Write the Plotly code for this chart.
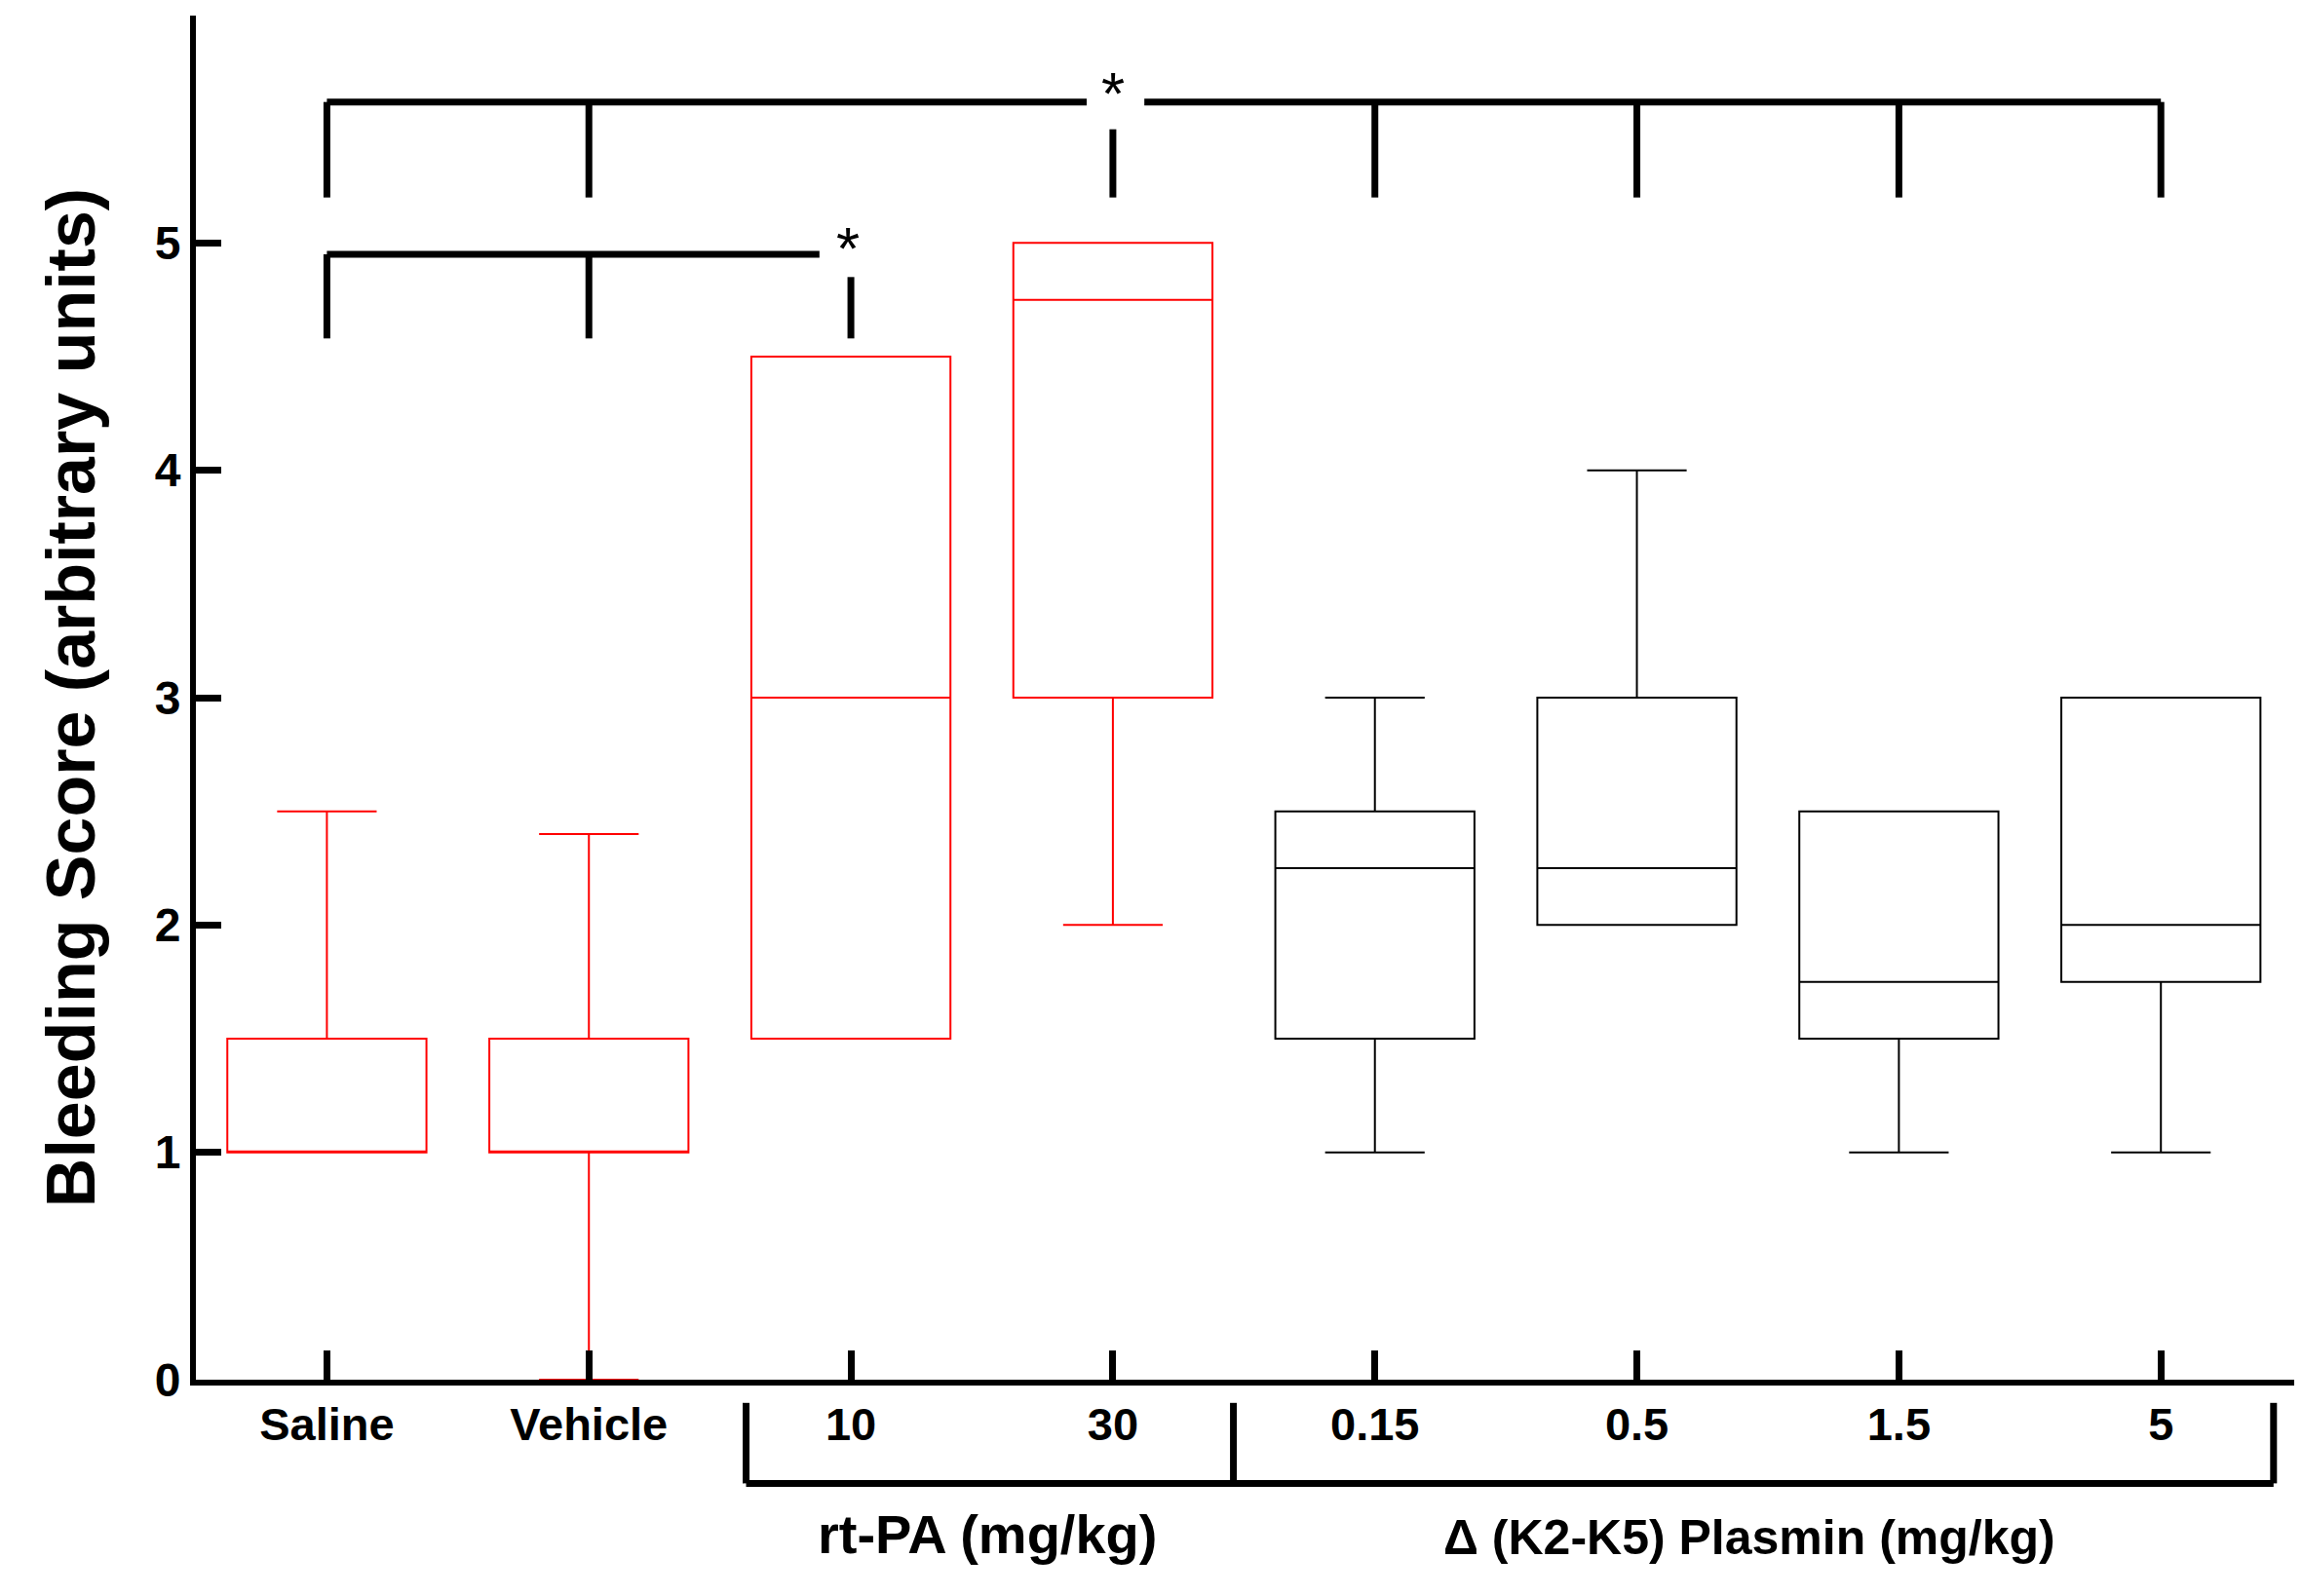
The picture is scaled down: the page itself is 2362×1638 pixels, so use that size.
import plotly.graph_objects as go

# bleeding score box statistics
groups = ["Saline", "Vehicle", "10", "30", "0.15", "0.5", "1.5", "5"]
lower = [1, 0, 1.5, 2, 1, 2, 1, 1]
q1 = [1, 1, 1.5, 3, 1.5, 2, 1.5, 1.75]
median = [1, 1, 3, 4.75, 2.25, 2.25, 1.75, 2]
q3 = [1.5, 1.5, 4.5, 5, 2.5, 3, 2.5, 3]
upper = [2.5, 2.4, 4.5, 5, 3, 4, 2.5, 3]
colors = ["red", "red", "red", "red", "black", "black", "black", "black"]
yticks = [0, 1, 2, 3, 4, 5, 6]

FONT = "Liberation Sans, Arial, sans-serif"
LW = 7

fig = go.Figure()
for i, g in enumerate(groups):
    fig.add_trace(go.Box(
        x=[i], q1=[q1[i]], median=[median[i]], q3=[q3[i]],
        lowerfence=[lower[i]], upperfence=[upper[i]],
        width=0.76, whiskerwidth=0.5, fillcolor="rgba(0,0,0,0)",
        line=dict(color=colors[i], width=2), showlegend=False, hoverinfo="skip",
    ))

shapes = []
def line(x0, y0, x1, y1, yref="y"):
    shapes.append(dict(type="line", x0=x0, y0=y0, x1=x1, y1=y1, xref="x", yref=yref,
                       line=dict(color="black", width=LW)))

# top significance bracket
line(0, 5.62, 2.9, 5.62)
line(3.12, 5.62, 7, 5.62)
for i in [0, 1, 4, 5, 6, 7]:
    line(i, 5.62, i, 5.2)
line(3, 5.5, 3, 5.2)
# lower bracket
line(0, 4.95, 1.88, 4.95)
for i in [0, 1]:
    line(i, 4.95, i, 4.58)
line(2, 4.85, 2, 4.58)
# group brackets below axis
line(1.6, -0.076, 7.43, -0.076, "paper")
for xv in [1.6, 3.46, 7.43]:
    line(xv, -0.076, xv, -0.017, "paper")

annotations = [
    dict(x=3, y=5.66, text="*", showarrow=False, font=dict(size=62, family=FONT, color="black")),
    dict(x=1.99, y=4.98, text="*", showarrow=False, font=dict(size=62, family=FONT, color="black")),
    dict(x=2.52, y=-0.137, xref="x", yref="paper", text="<b>rt-PA (mg/kg)</b>", showarrow=False,
         font=dict(size=56, family=FONT, color="black")),
    dict(x=5.43, y=-0.137, xref="x", yref="paper", text="<b>Δ (K2-K5) Plasmin (mg/kg)</b>",
         showarrow=False, font=dict(size=50, family=FONT, color="black")),
]

fig.update_layout(
    width=2362, height=1638, plot_bgcolor="white", paper_bgcolor="white",
    margin=dict(l=193, r=13, t=8, b=230),
    shapes=shapes, annotations=annotations, showlegend=False,
    font=dict(family=FONT, color="black"),
)
fig.update_xaxes(
    range=[-0.5, 7.52], tickvals=list(range(len(groups))),
    ticktext=[f"<b>{g}</b>" for g in groups], tickfont=dict(size=47),
    ticks="inside", ticklen=30, tickwidth=LW, tickcolor="black",
    showline=True, linewidth=6, linecolor="black", showgrid=False, zeroline=False,
)
fig.update_yaxes(
    range=[0, 6], tickvals=yticks, ticktext=[f"<b>{v}</b>" for v in yticks],
    tickfont=dict(size=48), ticks="inside", ticklen=26, tickwidth=LW, tickcolor="black",
    showline=True, linewidth=6, linecolor="black", showgrid=False, zeroline=False,
    title=dict(text="<b>Bleeding Score (arbitrary units)</b>", font=dict(size=70), standoff=40),
)

fig.write_html("out.html")
